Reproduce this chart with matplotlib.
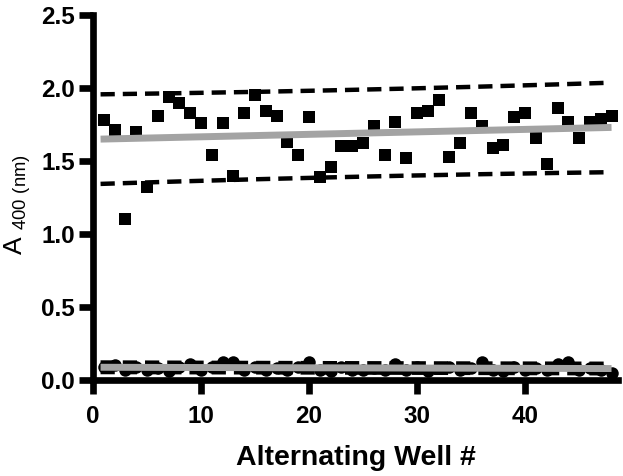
import numpy as np
import matplotlib
matplotlib.use("Agg")
import matplotlib.pyplot as plt

plt.rcParams['font.family'] = ['Liberation Sans', 'DejaVu Sans']
plt.rcParams['mathtext.default'] = 'regular'

wells = list(range(1, 49))
squares = [1.78, 1.71, 1.10, 1.70, 1.32, 1.81, 1.94, 1.90, 1.83, 1.76,
           1.54, 1.76, 1.40, 1.83, 1.95, 1.84, 1.81, 1.63, 1.54, 1.80,
           1.39, 1.46, 1.60, 1.60, 1.62, 1.74, 1.54, 1.77, 1.52, 1.83,
           1.84, 1.92, 1.53, 1.62, 1.83, 1.74, 1.59, 1.61, 1.80, 1.83,
           1.66, 1.48, 1.86, 1.77, 1.66, 1.77, 1.79, 1.81]
circles = [0.09, 0.10, 0.07, 0.09, 0.07, 0.08, 0.06, 0.09, 0.11, 0.07,
           0.09, 0.12, 0.12, 0.07, 0.09, 0.07, 0.08, 0.07, 0.09, 0.125,
           0.07, 0.06, 0.09, 0.07, 0.07, 0.08, 0.07, 0.11, 0.07, 0.09,
           0.06, 0.08, 0.09, 0.07, 0.08, 0.12, 0.07, 0.06, 0.09, 0.07,
           0.08, 0.07, 0.11, 0.12, 0.07, 0.08, 0.07, 0.05]
yticks = [0.0, 0.5, 1.0, 1.5, 2.0, 2.5]
ytick_labels = ['0.0', '0.5', '1.0', '1.5', '2.0', '2.5']
xticks = [0, 10, 20, 30, 40]
T_BAND = 1.679  # t quantile for 90% prediction band, df = 46


def fit_band(x, y):
    x = np.asarray(x, float)
    y = np.asarray(y, float)
    b, a = np.polyfit(x, y, 1)
    n = len(x)
    res = y - (a + b * x)
    s = np.sqrt(np.sum(res ** 2) / (n - 2))
    xx = np.linspace(x.min() - 0.3, x.max(), 200)
    sxx = np.sum((x - x.mean()) ** 2)
    se = s * np.sqrt(1 + 1 / n + (xx - x.mean()) ** 2 / sxx)
    yy = a + b * xx
    return xx, yy, yy - T_BAND * se, yy + T_BAND * se


fig = plt.figure(figsize=(6.23, 4.76), dpi=100)
ax = fig.add_axes([93 / 623, (476 - 380) / 476, (618 - 93) / 623, (380 - 15) / 476])

ax.plot(wells, squares, 's', color='black', ms=9, mew=0, zorder=3)
ax.plot(wells, circles, 'o', color='black', ms=9, mew=0, zorder=3)

for data in (squares, circles):
    xx, yy, lo, hi = fit_band(wells, data)
    for band in (lo, hi):
        ax.plot(xx, band, color='black', lw=3.2, dashes=(3.2, 1.8),
                dash_capstyle='butt', zorder=4)
    ax.plot(xx, yy, color='#a3a3a3', lw=5, solid_capstyle='butt', zorder=5)

ax.set_xlim(0, 48.6)
ax.set_ylim(0, 2.5)
ax.set_yticks(yticks)
ax.set_yticklabels(ytick_labels)
ax.set_xticks(xticks)
for s in ('top', 'right'):
    ax.spines[s].set_visible(False)
for s in ('left', 'bottom'):
    ax.spines[s].set_linewidth(4.8)
    ax.spines[s].set_capstyle('projecting')
ax.tick_params(axis='both', length=10, width=4.8, labelsize=17.5, pad=3)
ax.tick_params(axis='x', pad=8)
for lab in ax.get_xticklabels() + ax.get_yticklabels():
    lab.set_fontweight('bold')

ax.set_xlabel('Alternating Well #', fontsize=20.5, fontweight='bold')
ax.xaxis.set_label_coords(0.5, -0.178)
ax.set_ylabel('A $_{400\\ (nm)}$', fontsize=19)
ax.yaxis.set_label_coords(-0.114, 0.48)

fig.savefig('out.png', dpi=100)
